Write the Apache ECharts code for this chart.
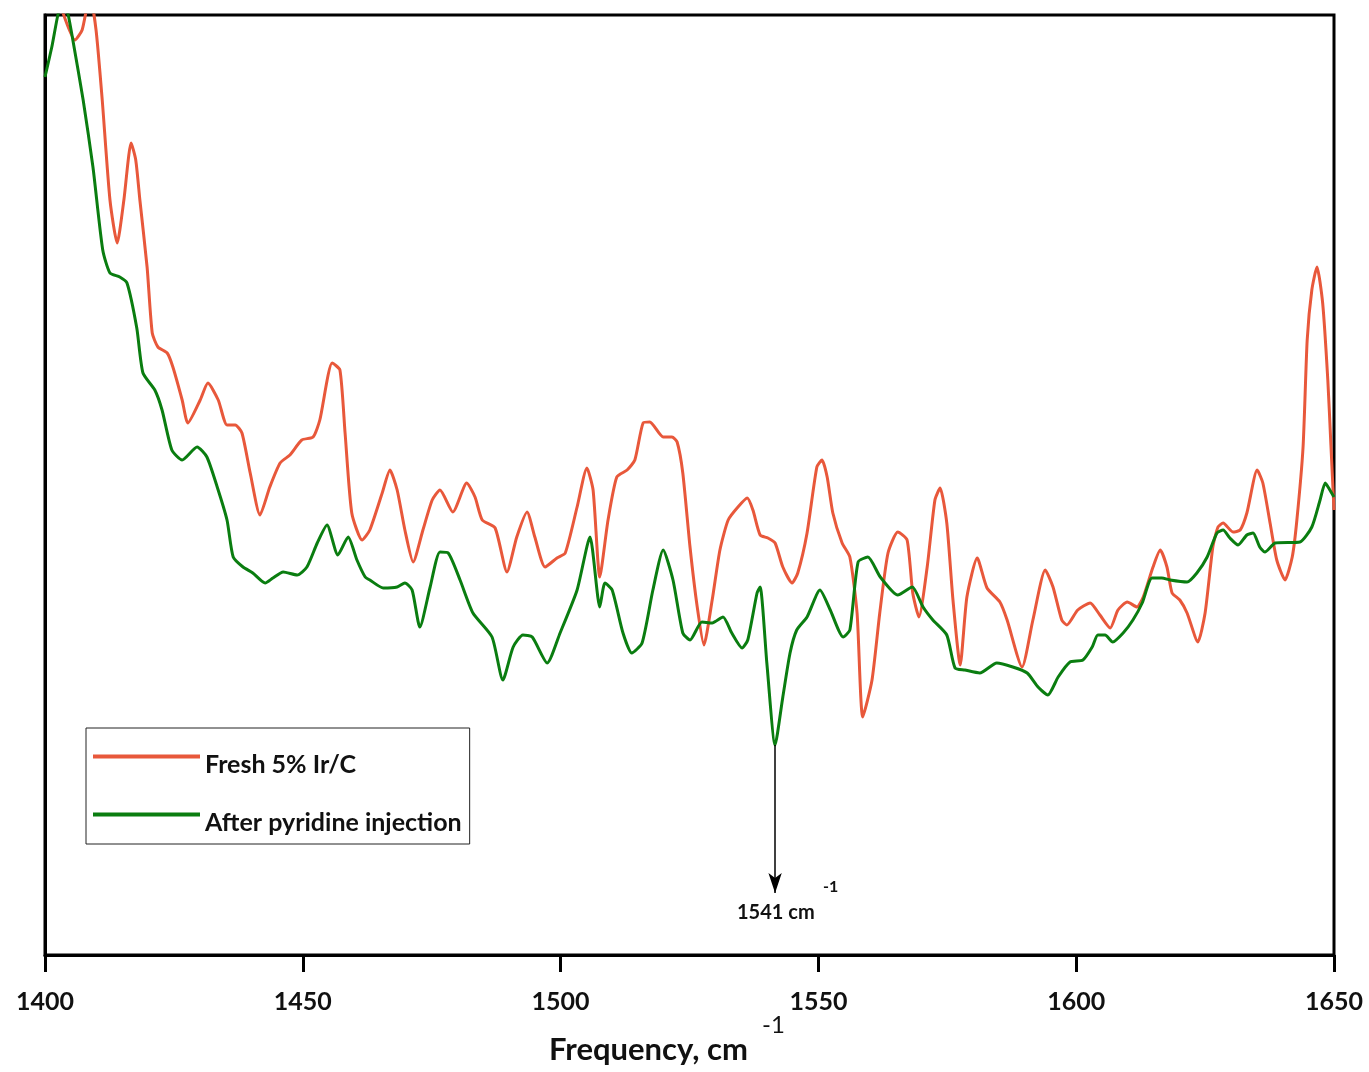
<!DOCTYPE html>
<html>
<head>
<meta charset="utf-8">
<script src="https://cdn.jsdelivr.net/npm/echarts@6/dist/echarts.min.js"></script>
<style>
html,body{margin:0;padding:0;background:#fff;}
#chart{width:1369px;height:1072px;}
</style>
</head>
<body>
<div id="chart"></div>
<script>
// spectra (y in arbitrary units, 0 = axis, 94 = top of frame)
var freshFreq = [1400,1403.3,1405.8,1407.2,1408.7,1409.9,1411.1,1412.6,1414.0,1415.3,1416.7,1417.6,1418.4,1419.8,1420.8,1421.9,1423.7,1424.8,1426.6,1427.7,
	1430.1,1431.6,1433.6,1435.3,1436.9,1438.2,1439.8,1441.7,1443.6,1445.6,1447.5,1449.8,1452.0,1453.3,1455.7,1457.2,1458.2,1459.5,1461.5,1463.0,
	1465.4,1466.9,1468.3,1469.8,1471.4,1473.3,1475.1,1476.6,1479.1,1481.8,1483.4,1484.8,1487.3,1489.6,1491.5,1493.5,1495.0,1497.0,1499.3,1500.9,
	1503.2,1505.1,1506.3,1507.6,1509.2,1510.9,1512.9,1514.4,1516.0,1517.3,1519.9,1521.6,1522.6,1523.7,1525.1,1526.5,1527.8,1529.4,1530.9,1532.5,
	1534.4,1536.2,1537.3,1538.7,1540.2,1541.6,1543.1,1544.9,1546.0,1547.8,1549.7,1550.7,1551.7,1552.8,1554.6,1556.1,1557.5,1558.6,1560.4,1561.9,
	1563.5,1565.4,1567.2,1568.3,1569.5,1571.1,1572.6,1573.6,1574.9,1576.1,1577.5,1578.8,1580.8,1582.7,1585.2,1586.6,1589.5,1591.6,1594.0,1595.5,
	1597.2,1598.2,1600.3,1602.7,1604.6,1606.6,1608.1,1609.9,1611.8,1613.0,1614.9,1616.3,1617.6,1618.6,1620.1,1621.5,1623.6,1625.0,1626.5,1627.5,
	1628.5,1630.4,1631.8,1633.1,1635.1,1636.2,1637.6,1638.9,1640.5,1641.9,1642.8,1644.0,1644.8,1645.7,1646.7,1647.8,1648.8,1649.4,1650.0];
var freshAbs = [100,94.5,91.5,92.5,96,92.5,85.5,75.5,71.2,75.5,81.2,79.5,75.5,68.8,62.2,60.8,60.2,58.8,55.5,53.2,
	55.5,57.2,55.5,53.0,53.0,52.2,48.2,44.0,46.8,49.2,50.0,51.5,51.8,53.5,59.2,58.5,52.2,44.2,41.5,42.5,
	46.2,48.5,46.5,42.5,39.3,42.5,45.5,46.5,44.3,47.2,45.8,43.5,42.7,38.3,41.8,44.3,41.8,38.8,39.7,40.2,
	44.8,48.7,46.5,37.8,43.5,47.8,48.5,49.5,53.2,53.3,51.8,51.8,51.3,48.2,40.8,34.8,31.0,35.5,40.5,43.5,
	44.8,45.7,44.5,42.0,41.7,41.2,38.8,37.2,38.2,42.2,48.8,49.5,47.8,44.2,41.2,39.8,34.2,23.8,27.5,34.2,
	40.2,42.3,41.5,36.2,33.8,38.8,45.5,46.7,43.2,35.5,29.0,35.8,39.7,36.7,35.3,33.5,28.8,33.5,38.5,36.8,
	33.5,33.0,34.5,35.2,34.0,32.7,34.5,35.3,34.8,35.8,38.8,40.5,38.8,36.2,35.5,34.2,31.3,34.2,40.8,42.8,
	43.2,42.3,42.5,44.2,48.5,47.2,43.2,39.5,37.5,39.8,43.5,50.8,61.5,66.5,68.8,65.2,57.5,51.0,44.5];

var pyrFreq = [1400,1401.4,1402.5,1403.5,1404.5,1405.4,1407.4,1409.3,1411.2,1412.6,1414.5,1415.9,1417.8,1419.0,1421.3,1422.7,1424.6,1426.6,1429.5,1431.4,
	1433.4,1435.3,1436.5,1438.4,1440.3,1442.7,1444.2,1446.2,1448.9,1450.8,1452.8,1454.7,1456.8,1458.8,1460.5,1462.1,1463.0,1465.6,1468.3,1469.8,
	1471.2,1472.7,1474.7,1476.6,1478.2,1480.5,1483.0,1486.7,1488.8,1490.8,1492.7,1494.5,1497.4,1499.9,1503.2,1505.7,1507.6,1508.6,1510.0,1512.1,
	1513.8,1515.8,1517.9,1519.9,1521.8,1523.7,1525.1,1527.4,1529.4,1531.5,1533.2,1535.2,1536.3,1538.1,1538.7,1540.0,1541.6,1543.1,1544.5,1545.8,
	1547.8,1550.3,1552.3,1554.8,1556.1,1557.7,1559.6,1562.0,1565.4,1568.2,1570.3,1572.2,1574.9,1576.5,1578.4,1581.3,1584.6,1587.7,1590.5,1592.6,
	1594.5,1596.5,1598.8,1601.3,1603.1,1604.2,1605.6,1607.1,1609.1,1611.0,1612.8,1614.7,1616.6,1618.2,1621.5,1623.4,1625.4,1627.3,1628.5,1629.8,
	1631.4,1633.1,1634.3,1635.6,1636.6,1638.6,1643.4,1645.7,1647.3,1648.3,1649.2,1650.0];
var pyrAbs = [87.8,91.0,94.0,95.5,94.0,91.5,85.5,78.8,70.5,68.2,67.8,67.2,62.7,58.2,56.5,54.5,50.5,49.5,50.8,49.8,
	46.8,43.5,39.8,38.8,38.2,37.2,37.7,38.3,38.0,38.8,41.2,43.0,40.0,41.8,39.5,37.8,37.5,36.7,36.8,37.2,
	36.5,32.8,36.8,40.3,40.2,37.5,34.2,31.8,27.5,30.8,32.0,31.8,29.2,32.2,36.5,41.8,34.8,37.2,36.5,32.2,
	30.2,31.2,36.5,40.5,37.5,32.2,31.5,33.3,33.2,33.8,32.2,30.7,31.5,36.2,36.8,29.2,21.0,25.8,30.2,32.5,
	33.8,36.5,34.5,31.8,32.5,39.3,39.8,37.8,36.0,36.8,34.8,33.5,32.0,28.7,28.5,28.2,29.2,28.8,28.2,26.8,
	26.0,27.8,29.3,29.5,30.8,32.0,32.0,31.3,32.2,33.5,35.2,37.7,37.7,37.5,37.3,38.2,39.8,42.2,42.5,41.7,
	41.0,42.0,42.2,40.8,40.3,41.2,41.3,42.8,45.5,47.2,46.5,45.8];

var seriesNames = ['Fresh 5% Ir/C','After pyridine injection'];
var xTicks = [1400,1650,50];
var peakFreq = 1541.6;
var peakAbs = 21.0;
var arrowEnd = 6.2;

function zip(xs, ys){
	var out = [];
	for (var i = 0; i < xs.length; i++) { out.push([xs[i], ys[i]]); }
	return out;
}

var chart = echarts.init(document.getElementById('chart'));
var font = 'Lato, "Open Sans", sans-serif';
var option = {
	animation: false,
	backgroundColor: '#fff',
	grid: {
		left: 45, right: 35, top: 15, bottom: 117,
		show: true, borderColor: '#000', borderWidth: 3, backgroundColor: 'transparent'
	},
	legend: {
		data: seriesNames,
		orient: 'vertical',
		left: 86, top: 728,
		icon: 'rect',
		itemWidth: 107, itemHeight: 4,
		itemGap: 33,
		padding: [24, 8, 9, 7],
		borderColor: '#222', borderWidth: 1,
		formatter: '{t|{name}}',
		textStyle: {
			rich: {
				t: {fontFamily: font, fontWeight: 'bold', fontSize: 25, color: '#111', padding: [16, 0, 0, 0]}
			}
		}
	},
	xAxis: {
		type: 'value',
		min: xTicks[0], max: xTicks[1], interval: xTicks[2],
		axisLine: {lineStyle: {color: '#000', width: 3}},
		axisTick: {show: true, length: 17, lineStyle: {color: '#000', width: 3}},
		axisLabel: {
			margin: 34, fontFamily: font, fontWeight: 'bold', fontSize: 25, color: '#111',
			formatter: function (v) { return String(v); }
		},
		splitLine: {show: false}
	},
	yAxis: {
		type: 'value',
		min: 0, max: 94,
		axisLine: {show: true, lineStyle: {color: '#000', width: 3}},
		axisTick: {show: false},
		axisLabel: {show: false},
		splitLine: {show: false}
	},
	series: [{
		name: seriesNames[0],
		type: 'line',
		data: zip(freshFreq, freshAbs),
		showSymbol: false,
		smooth: 0.2,
		clip: true,
		lineStyle: {color: '#E8583B', width: 3},
		itemStyle: {color: '#E8583B'}
	}, {
		name: seriesNames[1],
		type: 'line',
		data: zip(pyrFreq, pyrAbs),
		showSymbol: false,
		smooth: 0.2,
		clip: true,
		lineStyle: {color: '#0A7D10', width: 3},
		itemStyle: {color: '#0A7D10'},
		markLine: {
			silent: true,
			symbol: ['none', 'arrow'],
			symbolSize: [10, 20],
			label: {show: false},
			lineStyle: {color: '#000', width: 1.5, type: 'solid'},
			data: [[{coord: [peakFreq, peakAbs]}, {coord: [peakFreq, arrowEnd]}]]
		}
	}],
	graphic: [
		{type: 'text', left: 737, top: 903, style: {text: '1541 cm', font: 'bold 20px ' + font, fill: '#111'}},
		{type: 'text', left: 823, top: 879, style: {text: '-1', font: 'bold 16px ' + font, fill: '#111'}},
		{type: 'text', left: 549, top: 1034, style: {text: 'Frequency, cm', font: 'bold 31px ' + font, fill: '#111'}},
		{type: 'text', left: 762, top: 1013, style: {text: '-1', font: '24px ' + font, fill: '#111'}}
	]
};
chart.setOption(option);
</script>
</body>
</html>
